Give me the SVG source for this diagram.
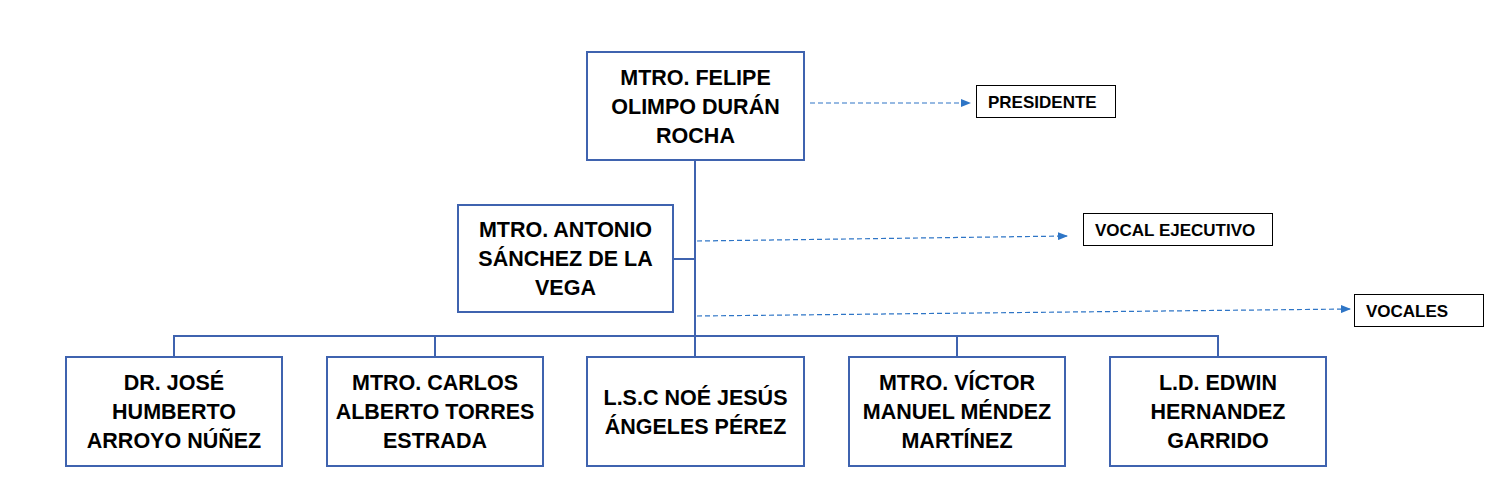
<svg xmlns="http://www.w3.org/2000/svg" width="1494" height="492" viewBox="0 0 1494 492">
<defs>
<style>
.box{fill:#fff;stroke:#3F63AF;stroke-width:2}
.lbl{fill:#fff;stroke:#000;stroke-width:1}
.t{font-family:"Liberation Sans",Arial,sans-serif;font-weight:bold;font-size:21.5px;fill:#000;text-anchor:middle}
.s{font-family:"Liberation Sans",Arial,sans-serif;font-weight:bold;font-size:17px;fill:#000}
.ln{fill:none;stroke:#3F63AF;stroke-width:2}
.dash{fill:none;stroke:#2E75C6;stroke-width:1.2;stroke-dasharray:5,3}
</style>
<marker id="ah" markerWidth="10" markerHeight="8" refX="9" refY="4" orient="auto" markerUnits="userSpaceOnUse">
<path d="M0,0 L10,4 L0,8 Z" fill="#2E75C6"/>
</marker>
</defs>
<rect width="1494" height="492" fill="#fff"/>
<g id="connectors">
<path class="ln" d="M695,160 V357"/>
<path class="ln" d="M673,259 H695"/>
<path class="ln" d="M174,357 V336 H1218 V357"/>
<path class="ln" d="M435,336 V357 M957,336 V357"/>
<path class="dash" d="M810,103 L970,103" marker-end="url(#ah)"/>
<path class="dash" d="M697,241 L1067,236" marker-end="url(#ah)"/>
<path class="dash" d="M697,316 L1350,309" marker-end="url(#ah)"/>
</g>
<g id="n-felipe">
<rect class="box" x="587" y="52" width="217" height="108"/>
<text class="t" x="695.5" y="85">MTRO. FELIPE</text>
<text class="t" x="695.5" y="114">OLIMPO DURÁN</text>
<text class="t" x="695.5" y="143">ROCHA</text>
</g>
<g id="l-presidente">
<rect class="lbl" x="976.5" y="85.5" width="139" height="32"/>
<text class="s" x="988" y="108">PRESIDENTE</text>
</g>
<g id="n-antonio">
<rect class="box" x="458" y="205" width="215" height="107"/>
<text class="t" x="565.5" y="237">MTRO. ANTONIO</text>
<text class="t" x="565.5" y="266">SÁNCHEZ DE LA</text>
<text class="t" x="565.5" y="295">VEGA</text>
</g>
<g id="l-vocal-ejecutivo">
<rect class="lbl" x="1083.5" y="213.5" width="189" height="32"/>
<text class="s" x="1095" y="236">VOCAL EJECUTIVO</text>
</g>
<g id="l-vocales">
<rect class="lbl" x="1354.5" y="294.5" width="129" height="32"/>
<text class="s" x="1366" y="317">VOCALES</text>
</g>
<g id="n-jose">
<rect class="box" x="66" y="357" width="216" height="109"/>
<text class="t" x="174" y="390">DR. JOSÉ</text>
<text class="t" x="174" y="419">HUMBERTO</text>
<text class="t" x="174" y="448">ARROYO NÚÑEZ</text>
</g>
<g id="n-carlos">
<rect class="box" x="327" y="357" width="216" height="109"/>
<text class="t" x="435" y="390">MTRO. CARLOS</text>
<text class="t" x="435" y="419">ALBERTO TORRES</text>
<text class="t" x="435" y="448">ESTRADA</text>
</g>
<g id="n-noe">
<rect class="box" x="587" y="357" width="217" height="109"/>
<text class="t" x="695.5" y="405">L.S.C NOÉ JESÚS</text>
<text class="t" x="695.5" y="434">ÁNGELES PÉREZ</text>
</g>
<g id="n-victor">
<rect class="box" x="849" y="357" width="216" height="109"/>
<text class="t" x="957" y="390">MTRO. VÍCTOR</text>
<text class="t" x="957" y="419">MANUEL MÉNDEZ</text>
<text class="t" x="957" y="448">MARTÍNEZ</text>
</g>
<g id="n-edwin">
<rect class="box" x="1110" y="357" width="216" height="109"/>
<text class="t" x="1218" y="390">L.D. EDWIN</text>
<text class="t" x="1218" y="419">HERNANDEZ</text>
<text class="t" x="1218" y="448">GARRIDO</text>
</g>
</svg>
